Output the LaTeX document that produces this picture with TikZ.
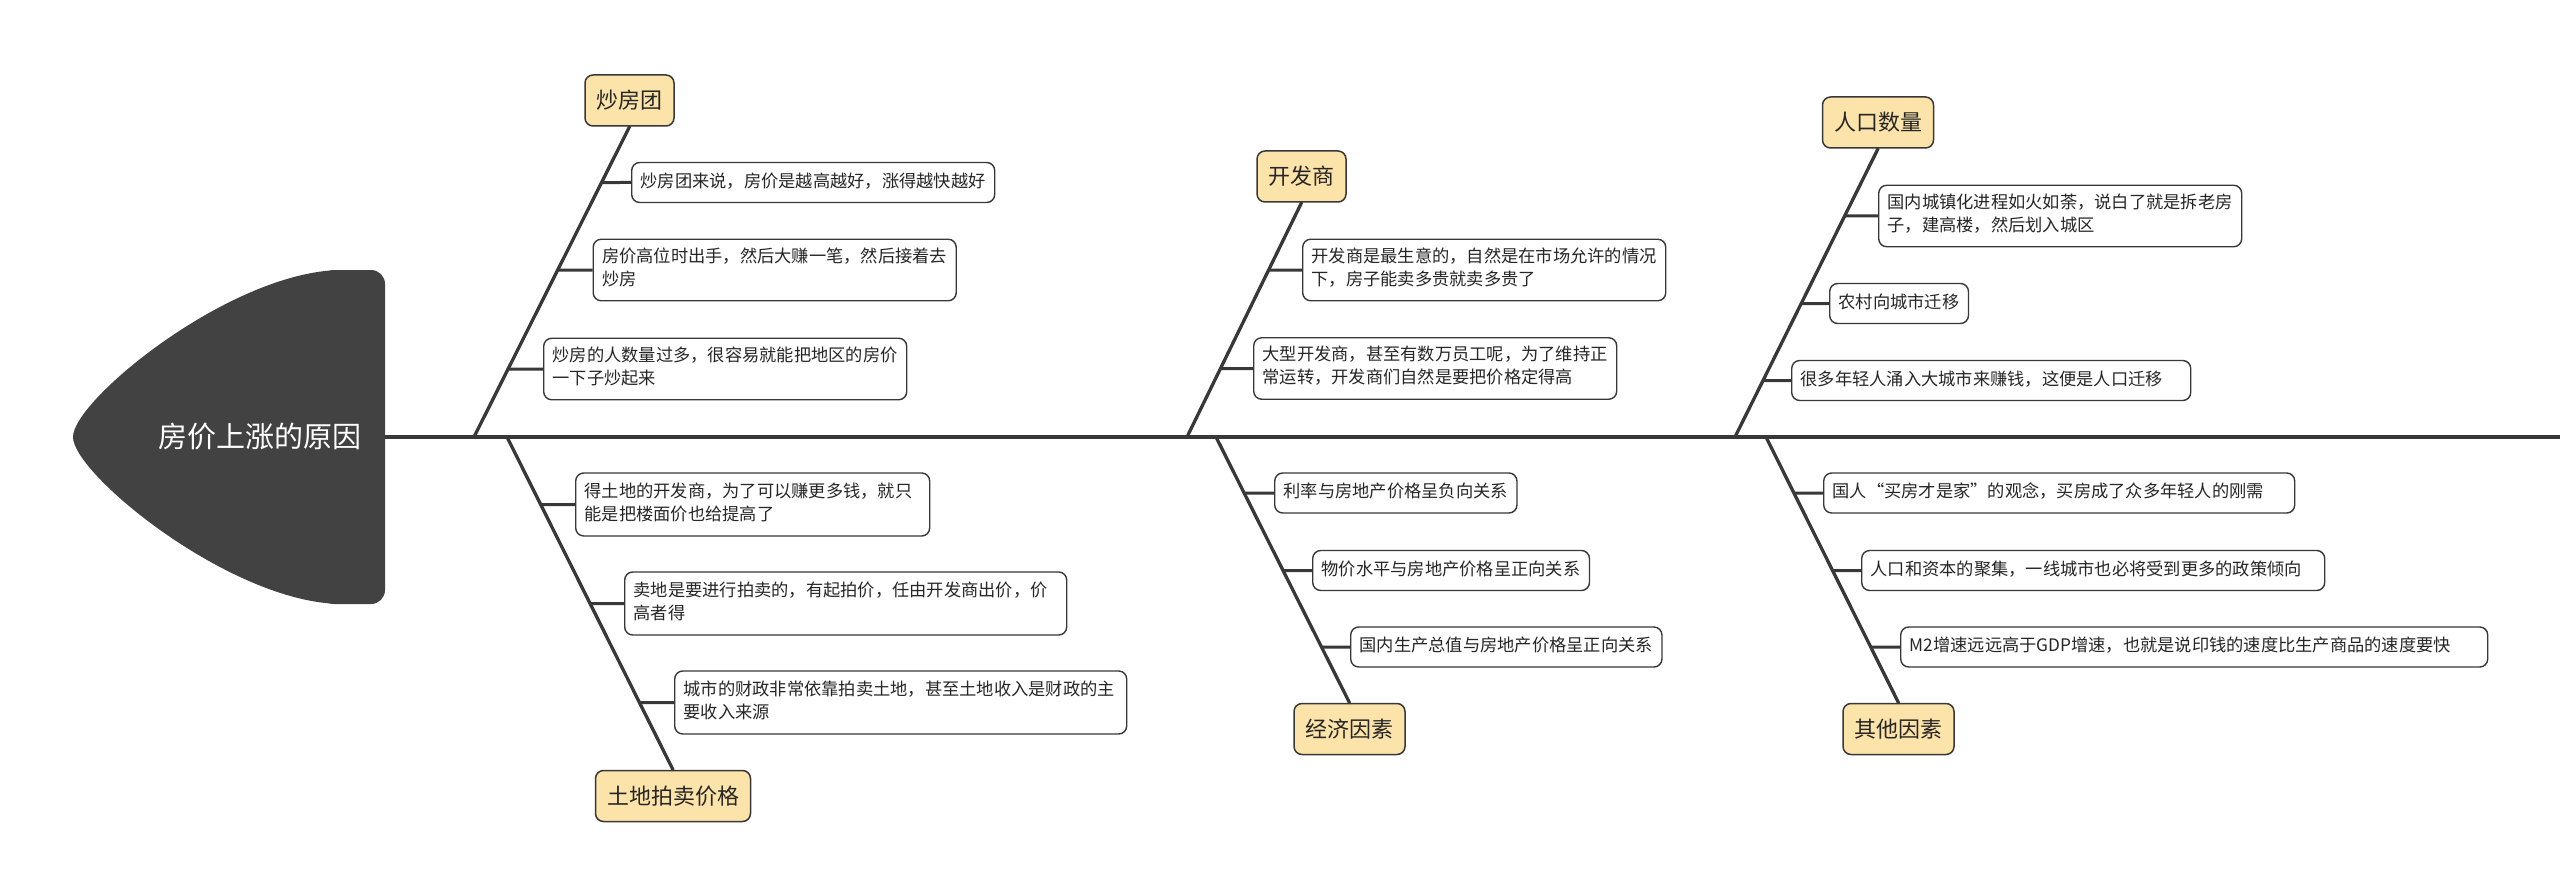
\documentclass[tikz,border=0pt]{standalone}
\usepackage{fontspec}
\setmainfont{Noto Sans CJK SC}
\usetikzlibrary{calc}

\definecolor{bonegray}{HTML}{383838}
\definecolor{headfill}{HTML}{424242}
\definecolor{tagfill}{HTML}{FCE3A9}
\definecolor{inkgray}{HTML}{262626}

\begin{document}
\begin{tikzpicture}[
    x=1pt, y=-1pt,
    line join=round,
    line cap=round,
    bone/.style={draw=bonegray, line width=3.3pt},
    twig/.style={draw=bonegray, line width=3pt, line cap=butt},
    cause/.style={draw=bonegray, line width=1.5pt, fill=tagfill, rounded corners=8pt,
      inner xsep=11.5pt, inner ysep=0pt, minimum height=51pt, text=inkgray,
      font=\fontsize{22}{26}\selectfont},
    leaf/.style={draw=bonegray, line width=1.4pt, fill=white, rounded corners=8pt,
      anchor=west, align=left, inner xsep=9pt, inner ysep=8.5pt, text=inkgray,
      font=\fontsize{17.25}{23}\selectfont,
      execute at begin node=\strut, execute at end node=\strut}
]

  % ==================== ПАРАМЕТРИ ====================
  \def\ys{437}      % висота хребта
  \useasboundingbox (0,0) rectangle (2560,896);

  % ==================== 1. ГОЛОВА ====================
  \fill[headfill] (73,\ys) .. controls (73,400) and (230,272) .. (340,270)
    -- (340,604) .. controls (230,602) and (73,474) .. cycle;
  \fill[headfill, rounded corners=14pt] (320,270) rectangle (385,604);
  \node[text=white, font=\fontsize{29}{34}\selectfont] (root) at (260,\ys) {房价上涨的原因};

  % ==================== 2. ХРЕБЕТ ====================
  \coordinate (neck) at (385,\ys);
  \coordinate (tail) at (2560,\ys);
  \draw[bone, line width=3.4pt, line cap=butt] (neck) -- (tail);

  \coordinate (j1) at (474,\ys);
  \coordinate (j2) at (507,\ys);
  \coordinate (j3) at (1187,\ys);
  \coordinate (j4) at (1216,\ys);
  \coordinate (j5) at (1735,\ys);
  \coordinate (j6) at (1766,\ys);

  % ==================== 3. ПРИЧИНИ ====================
  \node[cause] (k1) at (629.5,100.5) {炒房团};
  \node[cause] (k2) at (673,796) {土地拍卖价格};
  \node[cause] (k3) at (1301.5,176.5) {开发商};
  \node[cause] (k4) at (1349.5,729) {经济因素};
  \node[cause] (k5) at (1878,122.5) {人口数量};
  \node[cause] (k6) at (1898.5,729) {其他因素};

  % ==================== 4. ПОЯСНЕННЯ ====================
  \node[leaf] (a1) at (631,182.5) {炒房团来说，房价是越高越好，涨得越快越好};
  \node[leaf] (a2) at (592.5,270) {房价高位时出手，然后大赚一笔，然后接着去\\炒房};
  \node[leaf] (a3) at (543,369) {炒房的人数量过多，很容易就能把地区的房价\\一下子炒起来};

  \node[leaf, text width=336pt] (b1) at (575,504.5) {得土地的开发商，为了可以赚更多钱，就只\\能是把楼面价也给提高了};
  \node[leaf, text width=424pt] (b2) at (624,603.5) {卖地是要进行拍卖的，有起拍价，任由开发商出价，价\\高者得};
  \node[leaf, text width=434pt] (b3) at (674,702.5) {城市的财政非常依靠拍卖土地，甚至土地收入是财政的主\\要收入来源};

  \node[leaf] (c1) at (1302,270) {开发商是最生意的，自然是在市场允许的情况\\下，房子能卖多贵就卖多贵了};
  \node[leaf] (c2) at (1253,368.5) {大型开发商，甚至有数万员工呢，为了维持正\\常运转，开发商们自然是要把价格定得高};

  \node[leaf] (d1) at (1274,493) {利率与房地产价格呈负向关系};
  \node[leaf] (d2) at (1312,570.5) {物价水平与房地产价格呈正向关系};
  \node[leaf] (d3) at (1350,647) {国内生产总值与房地产价格呈正向关系};

  \node[leaf] (e1) at (1878,216) {国内城镇化进程如火如荼，说白了就是拆老房\\子，建高楼，然后划入城区};
  \node[leaf] (e2) at (1829,303.5) {农村向城市迁移};
  \node[leaf, text width=381pt] (e3) at (1791,380.5) {很多年轻人涌入大城市来赚钱，这便是人口迁移};

  \node[leaf, text width=453pt] (f1) at (1823,493) {国人“买房才是家”的观念，买房成了众多年轻人的刚需};
  \node[leaf, text width=445pt] (f2) at (1861,570.5) {人口和资本的聚集，一线城市也必将受到更多的政策倾向};
  \node[leaf, text width=569pt] (f3) at (1900,647) {M2增速远远高于GDP增速，也就是说印钱的速度比生产商品的速度要快};

  % ==================== 5. КІСТКИ ====================
  \draw[bone] (j1) -- (k1.south);
  \draw[bone] (j2) -- (k2.north);
  \draw[bone] (j3) -- (k3.south);
  \draw[bone] (j4) -- (k4.north);
  \draw[bone] (j5) -- (k5.south);
  \draw[bone] (j6) -- (k6.north);

  \foreach \leaf/\sa/\sb in {a1/j1/k1.south, a2/j1/k1.south, a3/j1/k1.south,
                             b1/j2/k2.north, b2/j2/k2.north, b3/j2/k2.north,
                             c1/j3/k3.south, c2/j3/k3.south,
                             d1/j4/k4.north, d2/j4/k4.north, d3/j4/k4.north,
                             e1/j5/k5.south, e2/j5/k5.south, e3/j5/k5.south,
                             f1/j6/k6.north, f2/j6/k6.north, f3/j6/k6.north}{
      \edef\twigpath{\noexpand\draw[twig] (intersection of \sa--\sb\space and \leaf.west--\leaf.east) -- (\leaf.west);}
      \twigpath
  }

\end{tikzpicture}
\end{document}
